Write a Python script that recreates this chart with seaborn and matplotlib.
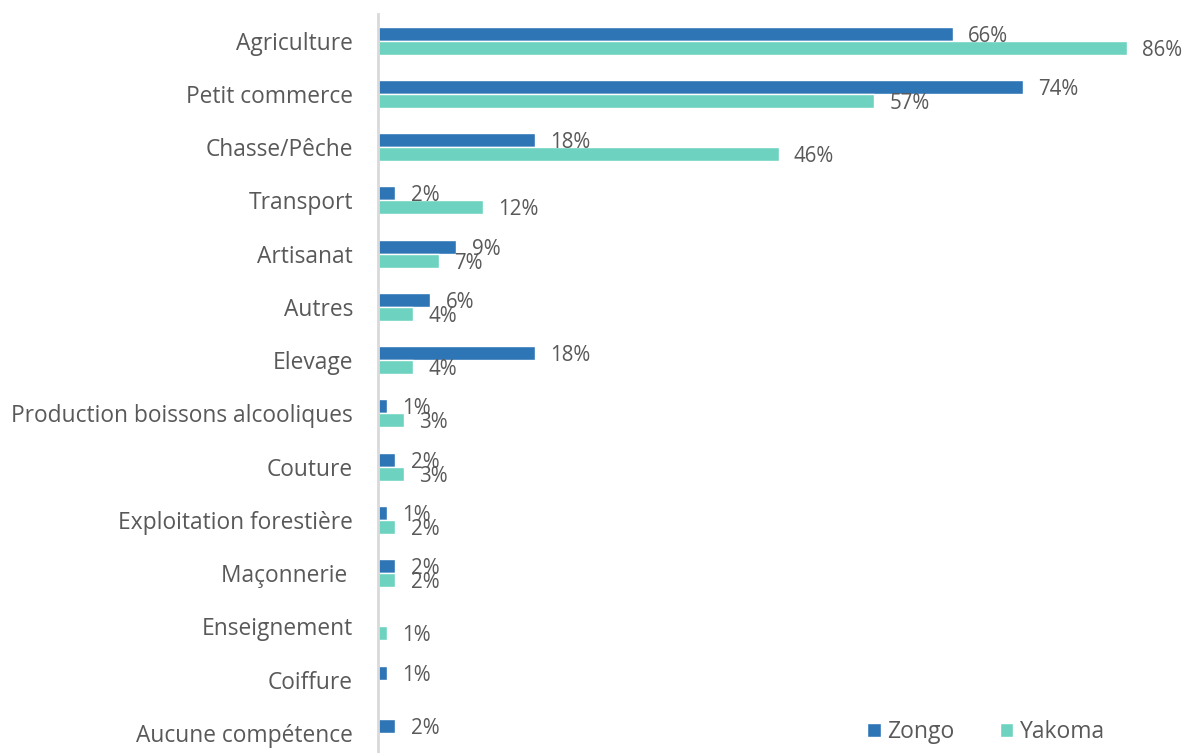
import matplotlib
matplotlib.use("Agg")
import matplotlib.pyplot as plt
import seaborn as sns
import pandas as pd
import numpy as np

categories = [
    "Agriculture", "Petit commerce", "Chasse/Pêche", "Transport", "Artisanat",
    "Autres", "Elevage", "Production boissons alcooliques", "Couture",
    "Exploitation forestière", "Maçonnerie ", "Enseignement", "Coiffure",
    "Aucune compétence",
]
zongo = [66, 74, 18, 2, 9, 6, 18, 1, 2, 1, 2, np.nan, 1, 2]
yakoma = [86, 57, 46, 12, 7, 4, 4, 3, 3, 2, 2, 1, np.nan, np.nan]
groups = ["Zongo", "Yakoma"]
colors = ["#2E75B6", "#6DD3C0"]
text_color = "#595959"

sns.set_theme(style="white")
plt.rcParams["font.family"] = ["Open Sans", "DejaVu Sans"]

df = pd.DataFrame({
    "Compétence": categories * 2,
    "Pourcentage": zongo + yakoma,
    "Groupe": ["Zongo"] * len(categories) + ["Yakoma"] * len(categories),
}).dropna()

W, H = 1185, 753
fig = plt.figure(figsize=(W / 100, H / 100), dpi=100)
ax = fig.add_axes([378 / W, 0, 1 - 378 / W, (753 - 14) / H])

sns.barplot(
    data=df, y="Compétence", x="Pourcentage", hue="Groupe",
    order=categories, hue_order=groups, palette=colors,
    orient="h", width=0.526, ax=ax, saturation=1, legend=True,
)

ax.set_xlim(0, (W - 378) / 8.71)
ax.set_ylim(13.376, -0.5)
ax.set_xlabel("")
ax.set_ylabel("")
ax.set_xticks([])
ax.tick_params(axis="y", length=0, pad=18, labelsize=16.4, labelcolor=text_color)

for side in ["top", "right", "bottom"]:
    ax.spines[side].set_visible(False)
ax.spines["left"].set_color("#D9D9D9")
ax.spines["left"].set_linewidth(2)

# value labels, nudged slightly below the bar centre
for cont in ax.containers:
    texts = ax.bar_label(cont, fmt=lambda v: f"{v:.0f}%", padding=11,
                         fontsize=14.8, color=text_color)
    for t in texts:
        dx, dy = t.xyann
        t.xyann = (dx, dy - 1.8)

handles, labels = ax.get_legend_handles_labels()
ax.legend(handles, labels, ncol=2, frameon=False, loc="lower right",
          bbox_to_anchor=(0.926, -0.016), fontsize=16.5, labelcolor=text_color,
          handlelength=0.57, handleheight=0.57, handletextpad=0.28,
          columnspacing=2.0)

fig.savefig("out.png", dpi=100, facecolor="white")
